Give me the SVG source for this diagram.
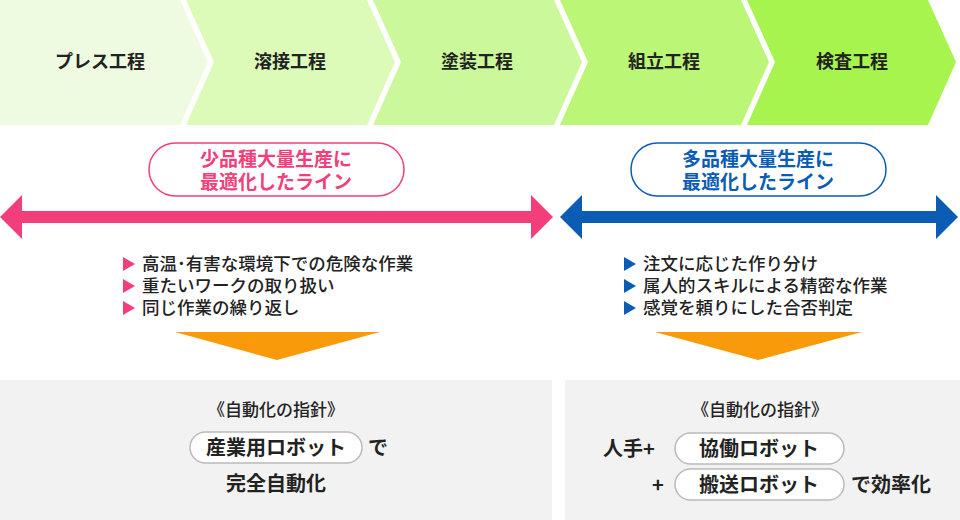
<svg xmlns="http://www.w3.org/2000/svg" width="960" height="520" viewBox="0 0 960 520">
<style>
text{font-family:"Noto Sans CJK JP","Noto Sans",sans-serif;fill:#222;font-weight:bold}
.h{font-size:18px;text-anchor:middle}
.b{font-size:17.5px;font-weight:500}
.m{font-size:20px}
.p{font-size:19px}
.pill{fill:#fff;stroke:#bbb;stroke-width:1.5}
</style>
<rect width="960" height="520" fill="#fff"/>
<g id="steps">
<g id="s1"><polygon points="0,0 180,0 208,62 180,125 0,125" fill="#eefbe0"/><text class="h" x="100" y="68">プレス工程</text></g>
<g id="s2"><polygon points="186,0 367,0 395,62 367,125 186,125 214,62" fill="#dcfbb8"/><text class="h" x="290" y="68">溶接工程</text></g>
<g id="s3"><polygon points="373,0 554,0 582,62 554,125 373,125 401,62" fill="#cbf89a"/><text class="h" x="477" y="68">塗装工程</text></g>
<g id="s4"><polygon points="560,0 741,0 769,62 741,125 560,125 588,62" fill="#bbf676"/><text class="h" x="664" y="68">組立工程</text></g>
<g id="s5"><polygon points="747,0 928,0 956,62 928,125 747,125 775,62" fill="#a8f44f"/><text class="h" x="852" y="68">検査工程</text></g>
</g>
<g id="connectors">
<polygon points="0,217 22,195 22,211 531,211 531,195 553,217 531,239 531,223 22,223 22,239" fill="#f23f7b"/>
<polygon points="560,217 582,195 582,211 936,211 936,195 958,217 936,239 936,223 582,223 582,239" fill="#0b5cb5"/>
<polygon points="175,332 380,332 277,360" fill="#f99a0b"/>
<polygon points="655,332 862,332 758,360" fill="#f99a0b"/>
</g>
<g id="pinkLabel"><rect x="149" y="143" width="255" height="53" rx="26.5" fill="#fff" stroke="#f23f7b" stroke-width="1.5"/>
<text class="p" x="276" y="166" text-anchor="middle" style="fill:#f23f7b">少品種大量生産に</text>
<text class="p" x="276" y="189" text-anchor="middle" style="fill:#f23f7b">最適化したライン</text></g>
<g id="blueLabel"><rect x="631" y="143" width="255" height="53" rx="26.5" fill="#fff" stroke="#0b5cb5" stroke-width="1.5"/>
<text class="p" x="758" y="166" text-anchor="middle" style="fill:#0b5cb5">多品種大量生産に</text>
<text class="p" x="758" y="189" text-anchor="middle" style="fill:#0b5cb5">最適化したライン</text></g>
<g id="leftBullets" fill="#f23f7b">
<polygon points="123,257 135,264 123,271"/><polygon points="123,279 135,286 123,293"/><polygon points="123,301 135,308 123,315"/>
<text class="b" x="142" y="270">高温･有害な環境下での危険な作業</text>
<text class="b" x="142" y="292">重たいワークの取り扱い</text>
<text class="b" x="142" y="314">同じ作業の繰り返し</text>
</g>
<g id="rightBullets" fill="#0b5cb5">
<polygon points="624,257 636,264 624,271"/><polygon points="624,279 636,286 624,293"/><polygon points="624,301 636,308 624,315"/>
<text class="b" x="643" y="270">注文に応じた作り分け</text>
<text class="b" x="643" y="292">属人的スキルによる精密な作業</text>
<text class="b" x="643" y="314">感覚を頼りにした合否判定</text>
</g>
<g id="leftPanel"><rect x="0" y="380" width="552" height="140" fill="#f2f2f2"/>
<text x="276" y="416" text-anchor="middle" style="font-size:17px;font-weight:500">《自動化の指針》</text>
<rect class="pill" x="190" y="432" width="172" height="31" rx="15.5"/>
<text class="m" x="276" y="455" text-anchor="middle">産業用ロボット</text>
<text class="m" x="368" y="455">で</text>
<text class="m" x="276" y="491" text-anchor="middle">完全自動化</text></g>
<g id="rightPanel"><rect x="565" y="380" width="395" height="140" fill="#f2f2f2"/>
<text x="760" y="416" text-anchor="middle" style="font-size:17px;font-weight:500">《自動化の指針》</text>
<text class="m" x="603" y="456">人手+</text>
<rect class="pill" x="675" y="433" width="169" height="31" rx="15.5"/>
<text class="m" x="759" y="456" text-anchor="middle">協働ロボット</text>
<text class="m" x="652" y="492">+</text>
<rect class="pill" x="675" y="469" width="169" height="31" rx="15.5"/>
<text class="m" x="759" y="492" text-anchor="middle">搬送ロボット</text>
<text class="m" x="851" y="492">で効率化</text></g>
</svg>
